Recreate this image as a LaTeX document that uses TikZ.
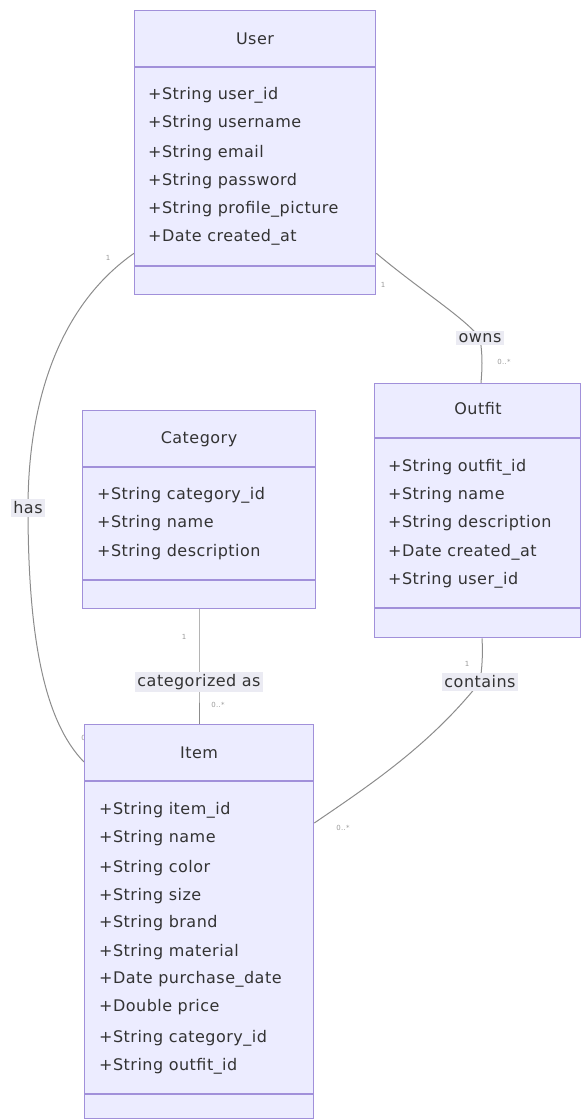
\documentclass[tikz,border=0pt]{standalone}
\usepackage{fontspec}
\setmainfont[LetterSpace=3]{DejaVu Sans}
\usetikzlibrary{calc}
\pgfdeclarelayer{background}
\pgfsetlayers{background,main}
\definecolor{classfill}{HTML}{ECECFF}
\definecolor{classline}{HTML}{A190DA}
\definecolor{edgecol}{HTML}{8C8C8C}
\definecolor{txt}{HTML}{333333}
\definecolor{lblbg}{HTML}{EBEBF3}
\definecolor{cardcol}{HTML}{9A9A9A}

\begin{document}
\begin{tikzpicture}[x=1pt,y=-1pt,
  classbox/.style={draw=classline, fill=classfill, line width=1.3pt, inner sep=0pt, anchor=north west},
  divider/.style={draw=classline, line width=1.3pt},
  classtitle/.style={font=\fontsize{16}{18}\selectfont, text=txt, inner sep=0pt},
  attr/.style={font=\fontsize{16}{18}\selectfont, text=txt, anchor=west, inner sep=0pt},
  rel/.style={draw=edgecol, line width=1pt},
  rellabel/.style={fill=lblbg, text=txt, font=\fontsize{16}{18}\selectfont, inner sep=2.5pt},
  card/.style={text=cardcol, font=\fontsize{7}{8}\selectfont, inner sep=0pt}]
\useasboundingbox (0,0) rectangle (581,1120);

% ---------- relation labels ----------
\node[rellabel] (owns) at (480,338) {owns};
\node[rellabel] (has) at (28,508) {has};
\node[rellabel] (catas) at (199,682) {categorized as};
\node[rellabel] (contains) at (480,682) {contains};

% multiplicity that sits under the Item box
\node[card] (hasmany) at (88,738) {0..*};

% ---------- User ----------
\node[classbox, minimum width=241pt, minimum height=284pt] (user) at (134,10) {};
\draw[divider] (134,67) -- (375,67);
\draw[divider] (134,266) -- (375,266);
\node[classtitle] (usertitle) at (255,39) {User};
\node[attr] (u1) at (148,95) {+String user\_id};
\node[attr] (u2) at (148,123) {+String username};
\node[attr] (u3) at (148,153) {+String email};
\node[attr] (u4) at (148,181) {+String password};
\node[attr] (u5) at (148,209) {+String profile\_picture};
\node[attr] (u6) at (148,237) {+Date created\_at};

% ---------- Outfit ----------
\node[classbox, minimum width=206pt, minimum height=254pt] (outfit) at (374,383) {};
\draw[divider] (374,438) -- (580,438);
\draw[divider] (374,608) -- (580,608);
\node[classtitle] (outfittitle) at (478,409) {Outfit};
\node[attr] (o1) at (388,467) {+String outfit\_id};
\node[attr] (o2) at (388,495) {+String name};
\node[attr] (o3) at (388,523) {+String description};
\node[attr] (o4) at (388,552) {+Date created\_at};
\node[attr] (o5) at (388,580) {+String user\_id};

% ---------- Category ----------
\node[classbox, minimum width=233pt, minimum height=198pt] (category) at (82,410) {};
\draw[divider] (82,467) -- (315,467);
\draw[divider] (82,580) -- (315,580);
\node[classtitle] (cattitle) at (199,439) {Category};
\node[attr] (c1) at (97,495) {+String category\_id};
\node[attr] (c2) at (97,523) {+String name};
\node[attr] (c3) at (97,552) {+String description};

% ---------- Item ----------
\node[classbox, minimum width=229pt, minimum height=394pt] (item) at (84,724) {};
\draw[divider] (84,781) -- (313,781);
\draw[divider] (84,1094) -- (313,1094);
\node[classtitle] (itemtitle) at (199,753) {Item};
\node[attr] (i1) at (99,810) {+String item\_id};
\node[attr] (i2) at (99,838) {+String name};
\node[attr] (i3) at (99,868) {+String color};
\node[attr] (i4) at (99,896) {+String size};
\node[attr] (i5) at (99,923) {+String brand};
\node[attr] (i6) at (99,952) {+String material};
\node[attr] (i7) at (99,979) {+Date purchase\_date};
\node[attr] (i8) at (99,1007) {+Double price};
\node[attr] (i9) at (99,1038) {+String category\_id};
\node[attr] (i10) at (99,1066) {+String outfit\_id};

% ---------- relations ----------
\begin{pgfonlayer}{background}
  % User 1 -- 0..* Outfit : owns
  \draw[rel] ($(user.south east)+(0,-42)$) .. controls (420,290) and (465,318) .. (owns.center)
             .. controls (483,358) and (482,370) .. ($(outfit.north west)+(107,0)$);
  % User 1 -- 0..* Item : has
  \draw[rel] ($(user.south west)+(0,-42)$) .. controls (60,305) and (28,400) .. (has.center)
             .. controls (28,640) and (45,722) .. ($(item.north west)+(0,38)$);
  % Category 1 -- 0..* Item : categorized as
  \draw[rel] ($(category.south west)+(117,0)$) -- (catas.center) -- ($(item.north west)+(115,0)$);
  % Outfit 1 -- 0..* Item : contains
  \draw[rel] ($(outfit.south west)+(108,0)$) .. controls (483,655) and (482,668) .. (contains.center)
             .. controls (430,745) and (370,785) .. ($(item.north east)+(0,99)$);
\end{pgfonlayer}

% ---------- multiplicities ----------
\node[card] (m1) at (108,258) {1};
\node[card] (m2) at (383,285) {1};
\node[card] (m3) at (504,362) {0..*};
\node[card] (m4) at (184,637) {1};
\node[card] (m5) at (218,705) {0..*};
\node[card] (m6) at (467,664) {1};
\node[card] (m7) at (343,828) {0..*};
\end{tikzpicture}
\end{document}
